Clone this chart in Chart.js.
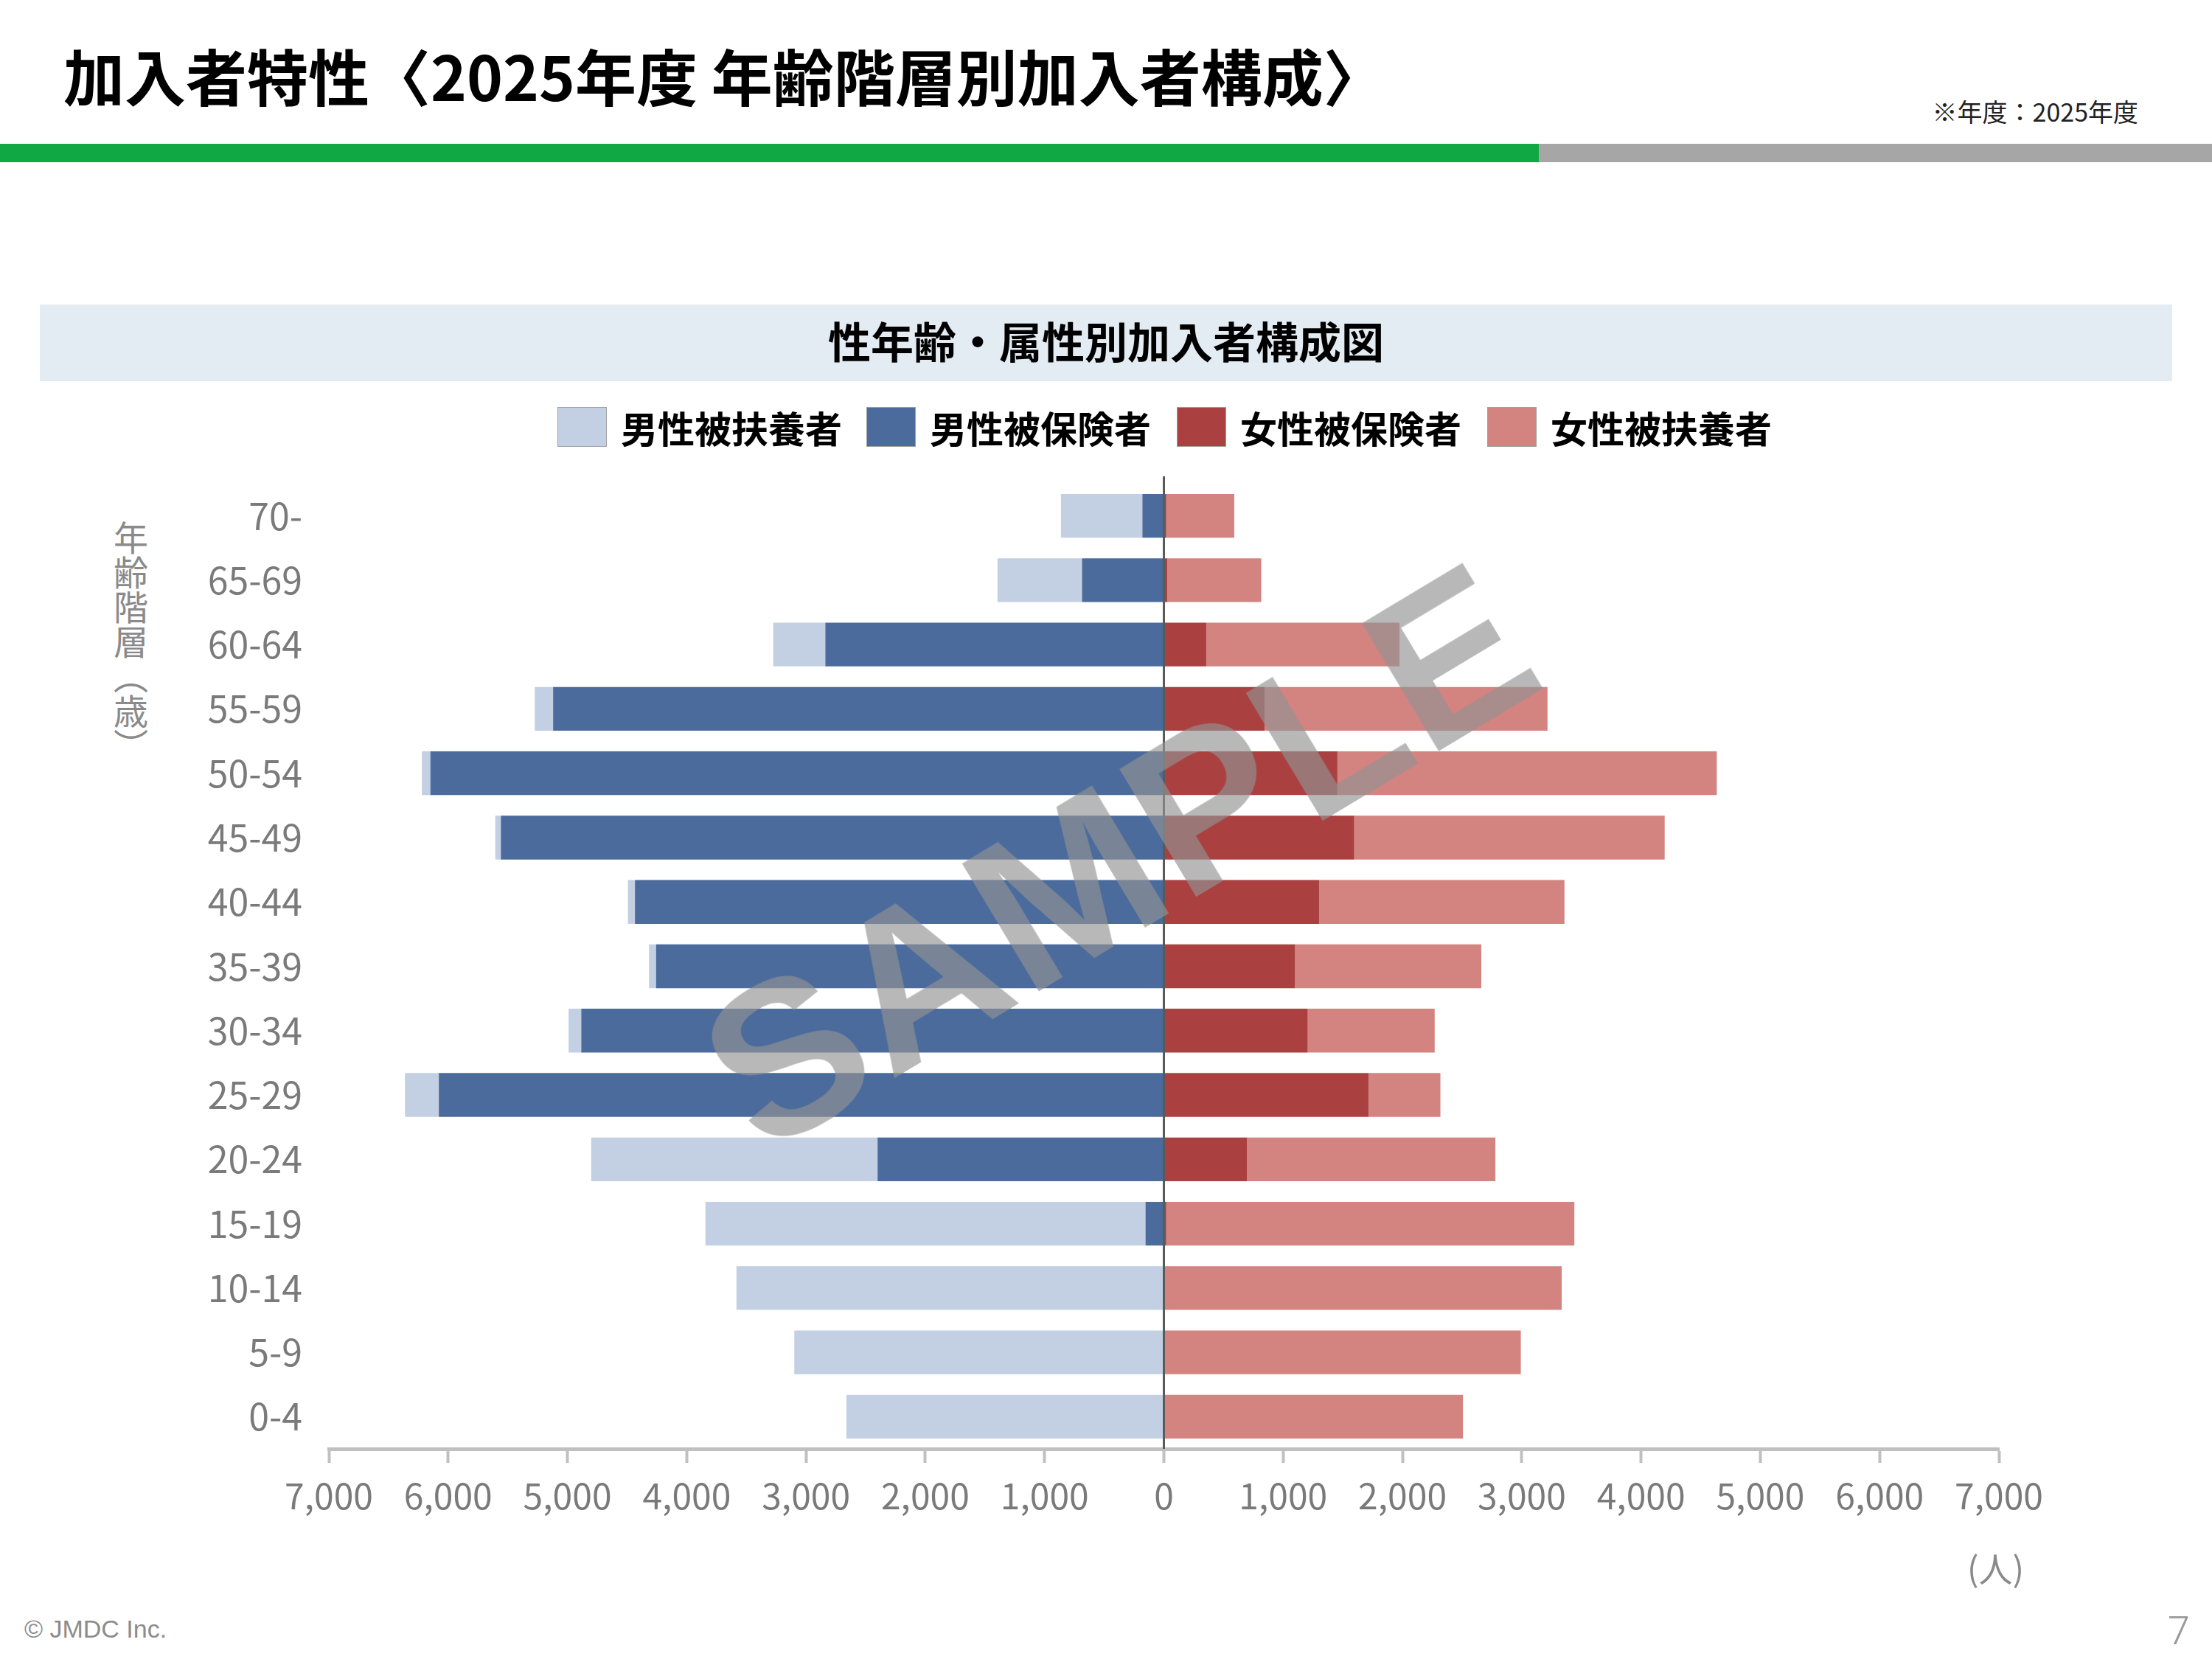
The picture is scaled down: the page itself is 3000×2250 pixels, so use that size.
<!DOCTYPE html>
<html lang="ja">
<head>
<meta charset="utf-8">
<script src="https://cdn.jsdelivr.net/npm/chart.js@4.4.1/dist/chart.umd.min.js"></script>
<style>
  html, body { margin:0; padding:0; background:#fff; }
  body { width:3000px; height:2250px; position:relative; overflow:hidden; font-family:"Noto Sans CJK JP","Noto Sans",sans-serif; }
  .abs { position:absolute; white-space:nowrap; }
  #title { left:86px; top:60px; font-size:83px; font-weight:700; color:#000; line-height:1; }
  #note { right:100px; top:134px; font-size:34px; color:#222; line-height:1; }
  #green { left:0; top:195px; width:2087px; height:25px; background:#10a844; }
  #gray { left:2087px; top:195px; width:913px; height:25px; background:#a6a6a6; }
  #panel { left:54px; top:413px; width:2892px; height:104px; background:#e4ecf3; }
  #panelTitle { left:0; width:3000px; top:428px; text-align:center; font-size:58px; font-weight:700; color:#000; line-height:66px; }
  .lg { position:absolute; top:551px; height:56px; display:flex; align-items:center; }
  .lg .box { width:67px; height:54px; border:1px solid #a0a0a0; box-sizing:border-box; margin-right:19px; }
  .lg span { font-size:50px; font-weight:700; color:#000; line-height:1; }
  #ytitle { left:154px; top:706px; writing-mode:vertical-rl; font-size:47px; color:#8a8a8a; line-height:1; }
  #unit { left:2668px; top:2102px; font-size:46px; color:#8a8a8a; line-height:1; }
  #copy { left:33px; top:2192px; font-size:34px; color:#8c8c8c; line-height:1; font-family:"Liberation Sans","Noto Sans",sans-serif; }
  #page { right:30px; top:2182px; font-size:54px; color:#9a9a9a; line-height:1; font-weight:300; font-family:"Noto Sans",sans-serif; }
  #chartBox { position:absolute; left:0; top:598px; width:2800px; height:1502px; }
  #wm { left:1518px; top:1160px; transform:translate(-50%,-50%) rotate(-31deg); font-family:"Liberation Sans","DejaVu Sans",sans-serif; font-weight:700; font-size:294px; color:rgba(146,146,146,0.65); line-height:1; pointer-events:none; letter-spacing:4px; }
</style>
</head>
<body>
<div id="title" class="abs">加入者特性〈2025年度 年齢階層別加入者構成〉</div>
<div id="note" class="abs">※年度：2025年度</div>
<div id="green" class="abs"></div>
<div id="gray" class="abs"></div>
<div id="panel" class="abs"></div>
<div id="panelTitle" class="abs">性年齢・属性別加入者構成図</div>
<div id="legend"></div>
<div id="ytitle" class="abs">年齢階層（歳）</div>
<div id="chartBox"><canvas id="c"></canvas></div>
<div id="unit" class="abs">(人)</div>
<div id="copy" class="abs">© JMDC Inc.</div>
<div id="page" class="abs">7</div>
<div id="wm" class="abs">SAMPLE</div>
<script>
const categories = ['70-','65-69','60-64','55-59','50-54','45-49','40-44','35-39','30-34','25-29','20-24','15-19','10-14','5-9','0-4'];
const maleDependents   = [683, 709, 437, 154, 71, 47, 59, 59, 106, 284, 2401, 3689, 3583, 3098, 2661];
const maleInsured      = [180, 686, 2838, 5120, 6149, 5558, 4434, 4257, 4884, 6078, 2400, 154, 0, 0, 0];
const femaleInsured    = [20, 30, 355, 845, 1455, 1596, 1301, 1100, 1206, 1715, 698, 20, 0, 0, 0];
const femaleDependents = [570, 786, 1620, 2371, 3180, 2602, 2057, 1561, 1064, 603, 2081, 3421, 3335, 2992, 2507];
const xTickValues = [-7000,-6000,-5000,-4000,-3000,-2000,-1000,0,1000,2000,3000,4000,5000,6000,7000];

const legendNames  = ['男性被扶養者','男性被保険者','女性被保険者','女性被扶養者'];
const legendColors = ['#c3cfe2','#4a6b9c','#aa4140','#d38380'];
const legendLefts  = [756, 1175, 1596, 2017];

const lgRoot = document.getElementById('legend');
legendNames.forEach((n,i)=>{
  const d = document.createElement('div');
  d.className = 'lg';
  d.style.left = legendLefts[i] + 'px';
  d.innerHTML = '<div class="box" style="background:'+legendColors[i]+'"></div><span>'+n+'</span>';
  lgRoot.appendChild(d);
});

const FONT = '"Noto Sans CJK JP","Noto Sans",sans-serif';

const zeroLine = {
  id:'zeroLine',
  afterDatasetsDraw(chart){
    const x = chart.scales.x.getPixelForValue(0);
    const a = chart.chartArea;
    const ctx = chart.ctx;
    ctx.save();
    ctx.strokeStyle = '#5a5a5a';
    ctx.lineWidth = 3;
    ctx.beginPath();
    ctx.moveTo(x, a.top - 10);
    ctx.lineTo(x, a.bottom);
    ctx.stroke();
    ctx.restore();
  }
};

new Chart(document.getElementById('c'), {
  type:'bar',
  data:{
    labels:categories,
    datasets:[
      { label:'男性被保険者', data:maleInsured.map(v=>-v), backgroundColor:'#4a6b9c', stack:'s' },
      { label:'男性被扶養者', data:maleDependents.map(v=>-v), backgroundColor:'#c3cfe2', stack:'s' },
      { label:'女性被保険者', data:femaleInsured, backgroundColor:'#aa4140', stack:'s' },
      { label:'女性被扶養者', data:femaleDependents, backgroundColor:'#d38380', stack:'s' }
    ]
  },
  options:{
    indexAxis:'y',
    responsive:true,
    maintainAspectRatio:false,
    animation:false,
    datasets:{ bar:{ categoryPercentage:1, barPercentage:0.68, borderWidth:0 } },
    layout:{ padding:{ top:36, right:89, left:0, bottom:0 } },
    plugins:{ legend:{ display:false }, tooltip:{ enabled:false } },
    scales:{
      x:{
        stacked:true,
        min:-7000, max:7000,
        afterBuildTicks(scale){ scale.ticks = xTickValues.map(v=>({value:v})); },
        afterFit(scale){ scale.height = 135; },
        grid:{ drawOnChartArea:false, drawTicks:true, tickLength:19, tickWidth:4, tickColor:'#c0c0c0', color:'#c0c0c0' },
        border:{ display:true, color:'#c0c0c0', width:5 },
        ticks:{
          padding:16,
          maxRotation:0,
          autoSkip:false,
          color:'#7a7a7a',
          font:{ family:FONT, size:48 },
          callback:(v)=>Math.abs(v).toLocaleString('en-US')
        }
      },
      y:{
        stacked:true,
        afterFit(scale){ scale.width = 446; },
        grid:{ display:false },
        border:{ display:false },
        ticks:{ padding:28, color:'#7a7a7a', font:{ family:FONT, size:50 } }
      }
    }
  },
  plugins:[zeroLine]
});
</script>
</body>
</html>
